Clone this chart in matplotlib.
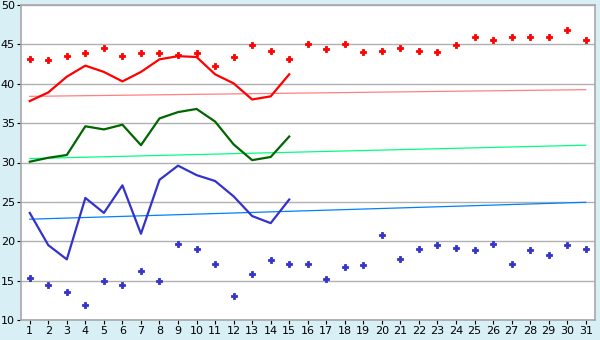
import matplotlib
matplotlib.use("Agg")
import matplotlib.pyplot as plt
import numpy as np

days = list(range(1, 32))
line_days = list(range(1, 16))

red_dots = [43.1, 43.0, 43.5, 43.9, 44.6, 43.5, 43.9, 43.9, 43.6, 43.9,
            42.3, 43.4, 44.9, 44.2, 43.2, 45.0, 44.4, 45.0, 44.0, 44.2,
            44.6, 44.2, 44.0, 44.9, 46.0, 45.6, 46.0, 46.0, 46.0, 46.8, 45.6]
blue_dots = [15.3, 14.5, 13.6, 11.9, 14.9, 14.4, 16.2, 14.9, 19.7, 19.0,
             17.1, 13.0, 15.9, 17.6, 17.1, 17.1, 15.2, 16.7, 16.95, 20.75,
             17.8, 19.0, 19.5, 19.1, 18.85, 19.6, 17.1, 18.85, 18.2, 19.5, 19.0]

red_line = [37.8, 38.9, 40.9, 42.3, 41.5, 40.3, 41.5, 43.1, 43.5, 43.4,
            41.2, 40.05, 38.0, 38.4, 41.2]
green_line = [30.1, 30.6, 30.95, 34.6, 34.2, 34.8, 32.2, 35.6, 36.4, 36.8,
              35.2, 32.3, 30.3, 30.7, 33.3]
blue_line = [23.6, 19.5, 17.7, 25.5, 23.6, 27.1, 20.95, 27.8, 29.6, 28.4,
             27.65, 25.7, 23.2, 22.3, 25.3]

trend_days = [1, 31]
red_trend = [38.4, 39.25]
green_trend = [30.5, 32.2]
blue_trend = [22.8, 24.95]

y_ticks = [10, 15, 20, 25, 30, 35, 40, 45, 50]

bg = "#D9EFF6"
fig = plt.figure(figsize=(6, 3.4), dpi=100, facecolor=bg)
ax = fig.add_axes([20.5 / 600, 20 / 340, (595 - 20.5) / 600, 315 / 340])
ax.set_facecolor("white")

ax.set_xlim(0.5, 31.5)
ax.set_ylim(10, 50)
ax.set_yticks(y_ticks)
ax.set_xticks(days)
ax.grid(axis="y", color="#B0B0B0", linewidth=1.0)
ax.set_axisbelow(True)

for s in ax.spines.values():
    s.set_color("#A8A8A8")
    s.set_linewidth(1.2)

ax.tick_params(axis="both", direction="out", length=3, width=0.8, color="black",
               labelsize=8, pad=1)

ax.plot(trend_days, red_trend, color="#FF8080", lw=0.9)
ax.plot(trend_days, green_trend, color="#00FF80", lw=0.9)
ax.plot(trend_days, blue_trend, color="#0080FF", lw=0.9)

ax.plot(line_days, red_line, color="#FF0000", lw=1.6)
ax.plot(line_days, green_line, color="#006600", lw=1.6)
ax.plot(line_days, blue_line, color="#3333CC", lw=1.6)

ax.plot(days, red_dots, linestyle="none", marker="P", markersize=4.2,
        color="#FF0000", markeredgewidth=0.6, markeredgecolor="#FF0000")
ax.plot(days, blue_dots, linestyle="none", marker="P", markersize=4.2,
        color="#3333CC", markeredgewidth=0.6, markeredgecolor="#3333CC")

fig.savefig("out.png", dpi=100, facecolor=bg)
